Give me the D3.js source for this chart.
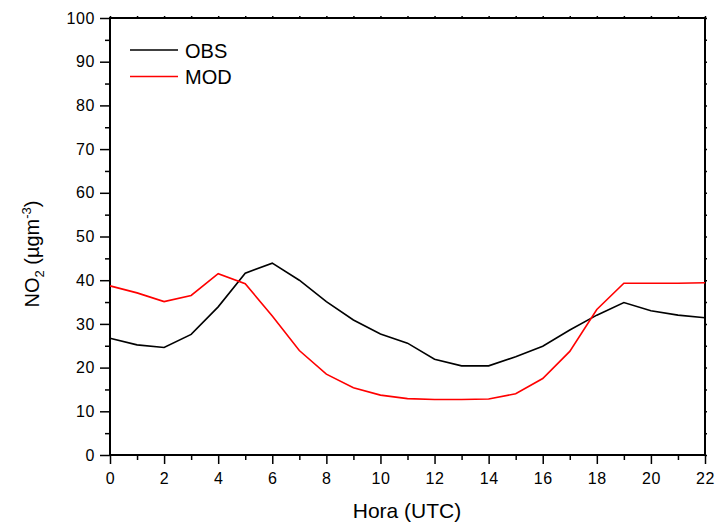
<!DOCTYPE html>
<html>
<head>
<meta charset="utf-8">
<script src="https://cdn.jsdelivr.net/npm/d3@7"></script>
<style>
	body { margin: 0; background: #fff; }
	svg { font-family: Arial, "Liberation Sans", sans-serif; }
</style>
</head>
<body>
<svg id="chart"></svg>
<script>
// hourly values
const hours = d3.range(0, 23);
const obs = [26.7, 25.2, 24.6, 27.6, 33.9, 41.6, 43.9, 40.0, 35.1, 30.9, 27.7, 25.6, 21.9, 20.4, 20.4, 22.5, 24.9, 28.6, 32.0, 34.9, 33.0, 32.0, 31.4];
const mod = [38.7, 37.1, 35.1, 36.5, 41.5, 39.2, 31.8, 23.9, 18.5, 15.4, 13.7, 12.9, 12.7, 12.7, 12.8, 14.0, 17.5, 23.7, 33.3, 39.3, 39.3, 39.3, 39.4];
const seriesNames = ["OBS", "MOD"];
const seriesColors = ["#000000", "#ff0000"];
const xTicks = d3.range(0, 23, 2);
const yTicks = d3.range(0, 101, 10);

const width = 716, height = 525;
const margin = {top: 18, right: 11, bottom: 70, left: 110};
const w = width - margin.left - margin.right;
const h = height - margin.top - margin.bottom;

const svg = d3.select("#chart").attr("width", width).attr("height", height);
const g = svg.append("g").attr("transform", `translate(${margin.left},${margin.top})`);

const x = d3.scaleLinear().domain([0, 22]).range([0, w]);
const y = d3.scaleLinear().domain([0, 100]).range([h, 0]);

// minor ticks
g.append("g")
	.attr("transform", `translate(0,${h})`)
	.call(d3.axisBottom(x).tickValues(d3.range(1, 22, 2)).tickSize(5).tickFormat(""))
	.call(a => a.select(".domain").remove());
g.append("g")
	.call(d3.axisLeft(y).tickValues(d3.range(5, 100, 10)).tickSize(5).tickFormat(""))
	.call(a => a.select(".domain").remove());

// top / right small ticks
g.append("g")
	.call(d3.axisTop(x).tickValues(d3.range(0, 23, 1)).tickSize(2).tickFormat(""))
	.call(a => a.select(".domain").remove());
g.append("g")
	.attr("transform", `translate(${w},0)`)
	.call(d3.axisRight(y).tickValues(d3.range(0, 101, 5)).tickSize(2).tickFormat(""))
	.call(a => a.select(".domain").remove());

const xAxis = g.append("g")
	.attr("transform", `translate(0,${h})`)
	.call(d3.axisBottom(x).tickValues(xTicks).tickSize(9).tickPadding(9));
const yAxis = g.append("g")
	.call(d3.axisLeft(y).tickValues(yTicks).tickSize(10).tickPadding(5));

[xAxis, yAxis].forEach(a => {
	a.selectAll("text").attr("font-size", 16).attr("letter-spacing", 0.6).attr("fill", "#000")
		.attr("font-family", "Arial, 'Liberation Sans', sans-serif");
	a.select(".domain").remove();
});
g.selectAll(".tick line").attr("stroke", "#000").attr("stroke-width", 1.5);

// frame
g.append("rect")
	.attr("width", w).attr("height", h)
	.attr("fill", "none").attr("stroke", "#000").attr("stroke-width", 2);

const line = d3.line().x((d, i) => x(hours[i])).y(d => y(d));

[obs, mod].forEach((s, i) => {
	g.append("path")
		.datum(s)
		.attr("fill", "none")
		.attr("stroke", seriesColors[i])
		.attr("stroke-width", 1.6)
		.attr("d", line);
});

// legend
const leg = g.append("g").attr("transform", "translate(20,32)");
seriesNames.forEach((n, i) => {
	const r = leg.append("g").attr("transform", `translate(0,${i * 26.5})`);
	r.append("line").attr("x1", 0).attr("x2", 48).attr("stroke", seriesColors[i]).attr("stroke-width", 1.6);
	r.append("text").attr("x", 55).attr("y", 7.5).attr("font-size", 20).text(n);
});

// axis titles
svg.append("text")
	.attr("x", 407).attr("y", 518)
	.attr("text-anchor", "middle").attr("font-size", 21)
	.text("Hora (UTC)");

const yt = svg.append("text")
	.attr("transform", "translate(39,254) rotate(-90)")
	.attr("text-anchor", "middle").attr("font-size", 20);
yt.append("tspan").text("NO");
yt.append("tspan").attr("font-size", 13).attr("dy", 5).text("2");
yt.append("tspan").attr("dy", -5).text(" (\u00b5gm");
yt.append("tspan").attr("font-size", 13).attr("dy", -8).text("-3");
yt.append("tspan").attr("dy", 8).text(")");
</script>
</body>
</html>
